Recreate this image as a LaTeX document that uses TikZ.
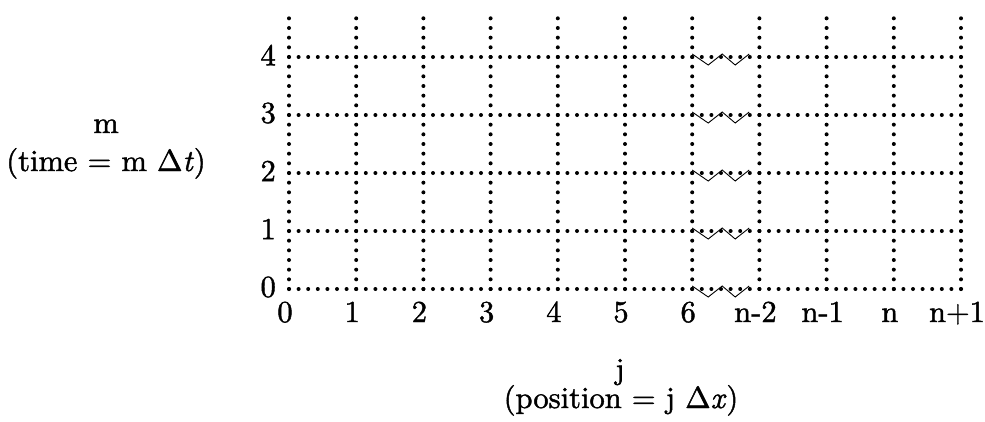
\documentclass[tikz,border=0pt]{standalone}
\usepackage{fontspec}
\setmainfont{lmroman10}[Extension=.otf, UprightFont=*-regular, ItalicFont=*-italic, BoldFont=*-bold, FakeBold=1.4]
\begin{document}
\begin{tikzpicture}[x=1pt,y=-1pt,
  vdots/.style={line width=4pt,line cap=round,dash pattern=on 0pt off 9.667pt},
  hdots/.style={line width=4pt,line cap=round,dash pattern=on 0pt off 9.6pt},
  lbl/.style={inner sep=0pt,font=\fontsize{30.5}{36}\selectfont},
  zig/.style={line width=0.9pt,line join=miter}]
\useasboundingbox (0,0) rectangle (985,421);
\foreach \k in {0,...,10} \draw[vdots] ({289+67.2*\k},289) -- ({289+67.2*\k},9.3);
\foreach \r in {0,...,4} \draw[hdots] (289,{289-58*\r}) -- (961,{289-58*\r});
\foreach \r in {0,...,4} \draw[zig] (692.2,{289-58*\r-3}) -- ++(16,11) -- ++(14,-11) -- ++(13,11) -- ++(14,-11);
\foreach \r in {0,...,4} \node[lbl,anchor=east] (m\r) at (276,{289-58*\r-2}) {\r};
\foreach \t [count=\k from 0] in {0,1,2,3,4,5,6,n-2,n-1,n,n+1}
  \node[lbl,anchor=base] (j\k) at ({285+67.2*\k},322) {\t};
\node[lbl,anchor=base] (mlab) at (106,133) {m};
\node[lbl,anchor=base] (mdef) at (106,171) {(time = m Δ\textit{t})};
\node[lbl,anchor=base] (jlab) at (620,379) {j};
\node[lbl,anchor=base] (jdef) at (621,408) {(position = j Δ\textit{x})};
\end{tikzpicture}
\end{document}
